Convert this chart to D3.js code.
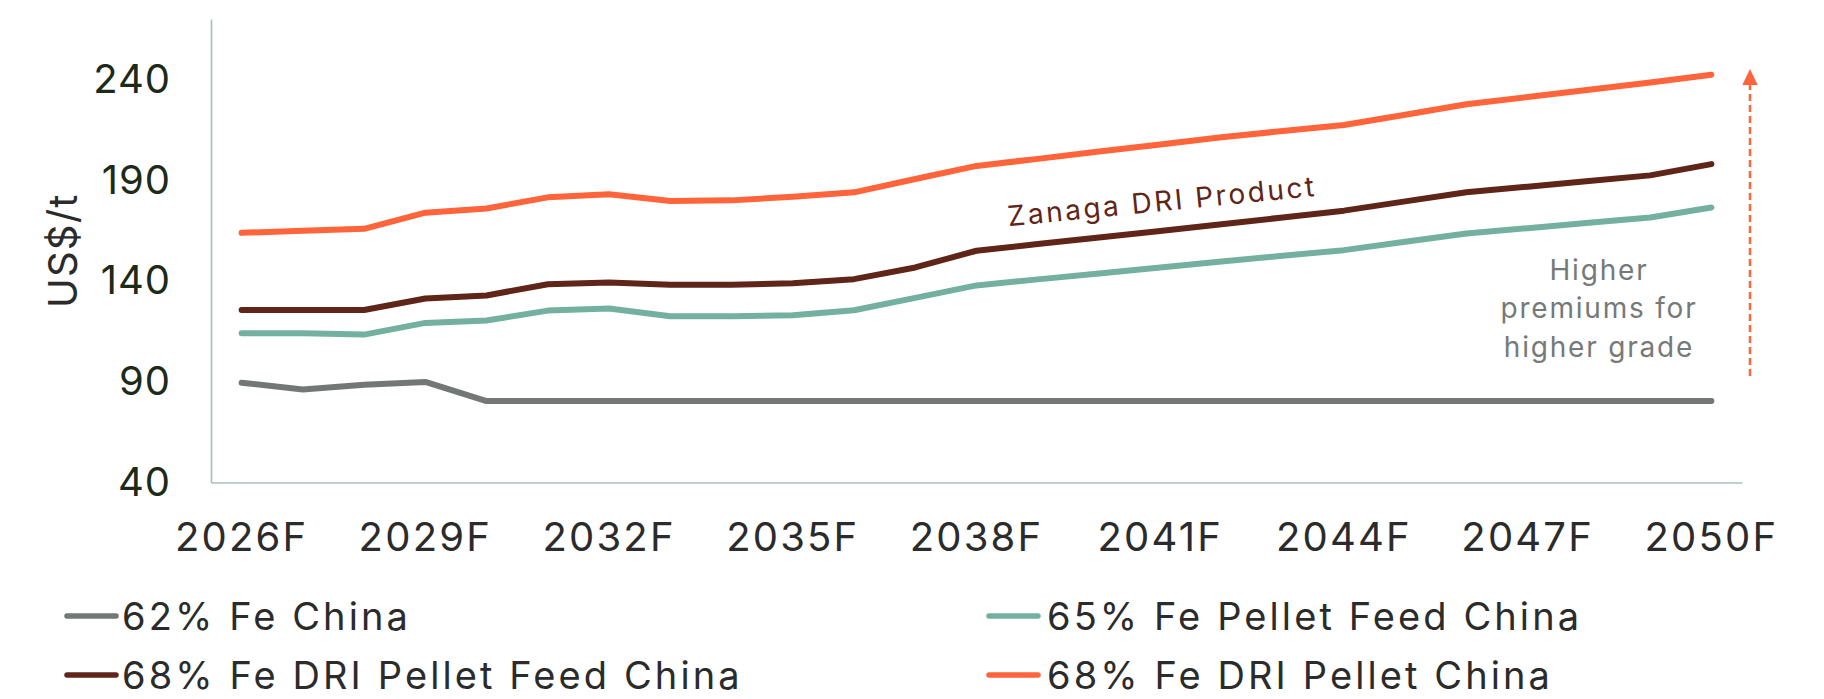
<!DOCTYPE html>
<html>
<head>
<meta charset="utf-8">
<script src="https://cdn.jsdelivr.net/npm/d3@7/dist/d3.min.js"></script>
<style>
  html, body { margin: 0; padding: 0; background: #ffffff; }
  svg { display: block; font-family: Inter, "Open Sans", sans-serif; }
</style>
</head>
<body>
<svg id="chart" width="1824" height="699"></svg>
<script>
// ---- Data ----
const years = ["2026F","2027F","2028F","2029F","2030F","2031F","2032F","2033F","2034F","2035F",
               "2036F","2037F","2038F","2039F","2040F","2041F","2042F","2043F","2044F","2045F",
               "2046F","2047F","2048F","2049F","2050F"];
const tickLabels = ["2026F","2029F","2032F","2035F","2038F","2041F","2044F","2047F","2050F"];
const yTicks = [40, 90, 140, 190, 240];

const fe62 = [89.5, 86.2, 88.5, 89.9, 80.4, 80.4, 80.4, 80.4, 80.4, 80.4,
              80.4, 80.4, 80.4, 80.4, 80.4, 80.4, 80.4, 80.4, 80.4, 80.4,
              80.4, 80.4, 80.4, 80.4, 80.4];
const fe65Pellet = [114.1, 114.1, 113.4, 119.2, 120.4, 125.3, 126.3, 122.5, 122.5, 123.0,
                    125.5, 131.6, 137.8, 140.8, 143.7, 146.7, 149.7, 152.5, 155.3, 159.5,
                    163.6, 166.2, 168.9, 171.5, 176.5];
const fe68DriFeed = [125.6, 125.6, 125.6, 131.3, 132.8, 138.4, 139.2, 138.1, 138.1, 138.9,
                     140.9, 146.7, 155.0, 158.3, 161.6, 164.8, 168.2, 171.5, 174.9, 179.5,
                     184.0, 186.8, 189.6, 192.4, 198.0];
const fe68DriPellet = [163.9, 164.9, 165.9, 173.9, 176.0, 181.5, 183.0, 179.7, 180.0, 181.8,
                       184.0, 190.6, 197.1, 200.6, 204.2, 207.7, 211.3, 214.4, 217.4, 222.5,
                       227.7, 231.3, 234.9, 238.5, 242.3];

const seriesNames = ["62% Fe China", "65% Fe Pellet Feed China",
                     "68% Fe DRI Pellet Feed China", "68% Fe DRI Pellet China"];
const seriesColors = ["#737877", "#74b0a0", "#5e2518", "#ff643a"];
const seriesValues = [fe62, fe65Pellet, fe68DriFeed, fe68DriPellet];

// ---- Layout ----
const svg = d3.select("#chart");
const plot = { left: 211, right: 1742, top: 19, bottom: 482.5 };

const x = d3.scaleBand().domain(years).range([plot.left, plot.right]).padding(0);
const xc = d => x(d) + x.bandwidth() / 2;
const y = d3.scaleLinear().domain([40, 270]).range([plot.bottom, plot.top]);

// Axes
const xAxis = d3.axisBottom(x).tickValues(tickLabels).tickSize(0).tickSizeOuter(0).tickPadding(40);
const gx = svg.append("g").attr("transform", `translate(0,${plot.bottom})`).call(xAxis);
gx.select(".domain").attr("stroke", "#a6c0bc").attr("stroke-width", 1.6);
gx.selectAll("text").attr("font-size", 40).attr("fill", "#2b2b2b")
  .attr("font-family", "Inter, sans-serif").attr("letter-spacing", 2.2);

const yAxis = d3.axisLeft(y).tickValues(yTicks).tickSize(0).tickSizeOuter(0).tickPadding(40);
const gy = svg.append("g").attr("transform", `translate(${plot.left},0)`).call(yAxis);
gy.select(".domain").attr("stroke", "#a6c0bc").attr("stroke-width", 1.6);
gy.selectAll("text").attr("font-size", 40).attr("fill", "#1c2a18")
  .attr("font-family", "Inter, sans-serif").attr("letter-spacing", 1);

// Y title
svg.append("text")
  .attr("transform", `translate(77, ${(plot.top + plot.bottom) / 2}) rotate(-90)`)
  .attr("text-anchor", "middle")
  .attr("font-size", 40).attr("fill", "#2b2b2b").attr("letter-spacing", 1.2)
  .text("US$/t");

// Lines
const line = d3.line().x((d, i) => xc(years[i])).y(d => y(d));
seriesValues.forEach((vals, k) => {
  svg.append("path")
    .datum(vals)
    .attr("d", line)
    .attr("fill", "none")
    .attr("stroke", seriesColors[k])
    .attr("stroke-width", 6)
    .attr("stroke-linecap", "round")
    .attr("stroke-linejoin", "round");
});

// Annotation: Zanaga DRI Product
svg.append("text")
  .attr("transform", "translate(1163,211) rotate(-5.6)")
  .attr("text-anchor", "middle")
  .attr("font-size", 28).attr("fill", "#5e2518").attr("letter-spacing", 2.6)
  .text("Zanaga DRI Product");

// Annotation: Higher premiums for higher grade
const noteLines = ["Higher", "premiums for", "higher grade"];
const note = svg.append("text")
  .attr("text-anchor", "middle")
  .attr("font-size", 28).attr("fill", "#757a79").attr("letter-spacing", 1.8);
noteLines.forEach((t, i) => {
  note.append("tspan").attr("x", 1599).attr("y", 280 + i * 38.3).text(t);
});

// Dashed arrow
svg.append("line")
  .attr("x1", 1750).attr("x2", 1750)
  .attr("y1", 376).attr("y2", 85)
  .attr("stroke", "#ff643a").attr("stroke-width", 2.5)
  .attr("stroke-dasharray", "7,4");
svg.append("path")
  .attr("d", "M1750,69 L1757.7,85 L1742.3,85 Z")
  .attr("fill", "#ff643a");

// Legend
const legendPos = [
  { sx: 64, tx: 122, y: 630 },
  { sx: 986, tx: 1047, y: 630 },
  { sx: 64, tx: 122, y: 689 },
  { sx: 986, tx: 1047, y: 689 }
];
seriesNames.forEach((name, k) => {
  const p = legendPos[k];
  svg.append("line")
    .attr("x1", p.sx + 3).attr("x2", p.sx + 52)
    .attr("y1", p.y - 14).attr("y2", p.y - 14)
    .attr("stroke", seriesColors[k]).attr("stroke-width", 5.5)
    .attr("stroke-linecap", "round");
  svg.append("text")
    .attr("x", p.tx).attr("y", p.y)
    .attr("font-size", 38).attr("fill", "#2b2b2b").attr("letter-spacing", 3.1)
    .text(name);
});
</script>
</body>
</html>
